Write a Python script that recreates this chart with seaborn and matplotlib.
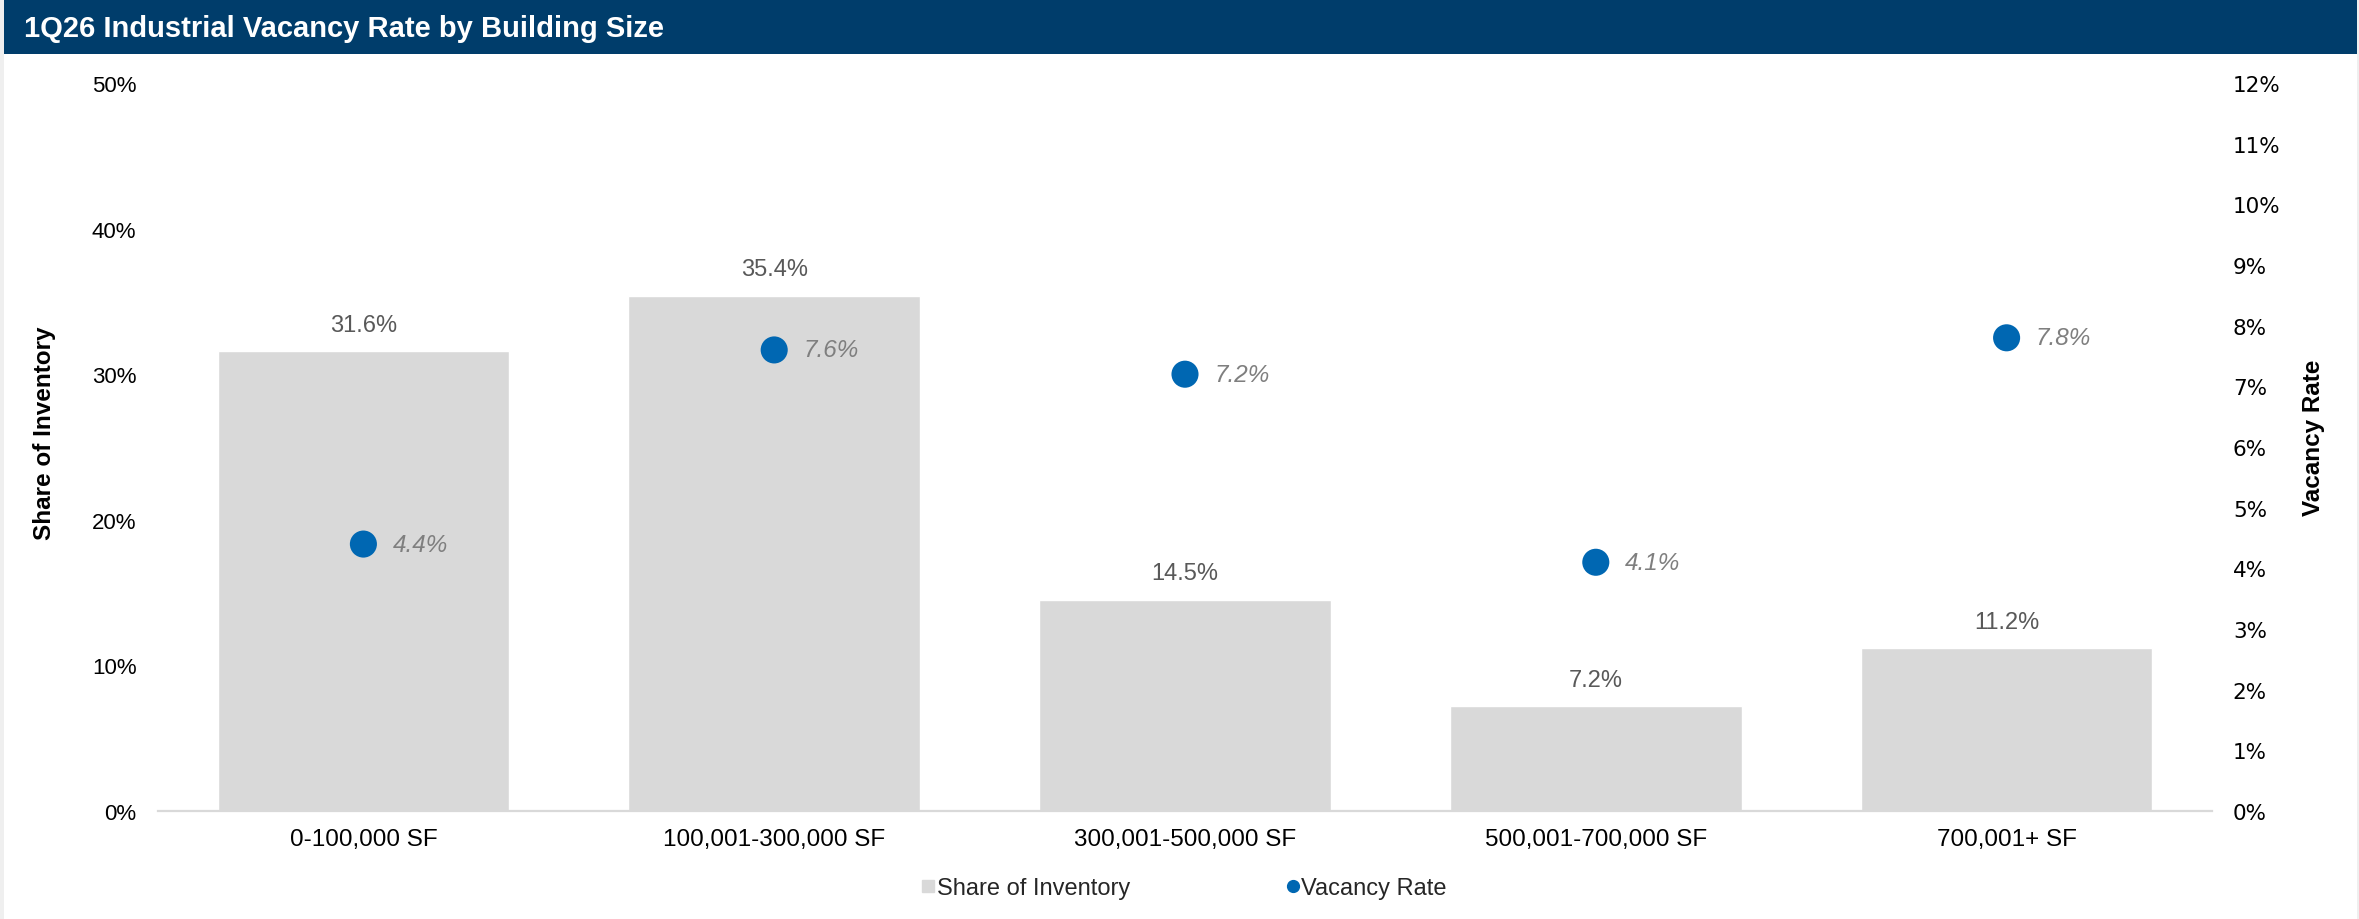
import matplotlib
matplotlib.use("Agg")
import matplotlib.pyplot as plt
from matplotlib.patches import Rectangle
from matplotlib.lines import Line2D
from matplotlib.ticker import FuncFormatter, MultipleLocator
import seaborn as sns
import pandas as pd

# Data
categories = ["0-100,000 SF", "100,001-300,000 SF", "300,001-500,000 SF",
              "500,001-700,000 SF", "700,001+ SF"]
share_of_inventory = [31.6, 35.4, 14.5, 7.2, 11.2]
vacancy_rate = [4.4, 7.6, 7.2, 4.1, 7.8]
title = "1Q26 Industrial Vacancy Rate by Building Size"

df = pd.DataFrame({"size": categories, "share": share_of_inventory, "vacancy": vacancy_rate})

sns.set_theme(style="white")
plt.rcParams["font.family"] = ["Liberation Sans", "DejaVu Sans"]

BAR = "#D9D9D9"
DOT = "#0067B2"
NAVY = "#003D6B"

W, H = 2359, 920
fig = plt.figure(figsize=(W / 100, H / 100), dpi=100, facecolor="#EFEFEF")

# white panel and title banner
fig.patches.append(Rectangle((4 / W, 0), (2357 - 4) / W, 1, transform=fig.transFigure,
                             facecolor="white", edgecolor="none", zorder=-2))
fig.patches.append(Rectangle((4 / W, 1 - 55 / H), (2357 - 4) / W, 54 / H, transform=fig.transFigure,
                             facecolor=NAVY, edgecolor="none", zorder=-1))
fig.text(24 / W, 1 - 29 / H, title, color="white", fontsize=21, fontweight="bold",
         va="center", ha="left")

ax = fig.add_axes([158 / W, 1 - 812 / H, (2212 - 158) / W, (812 - 84) / H])
ax.patch.set_alpha(0)
sns.barplot(data=df, x="size", y="share", color=BAR, width=0.71, saturation=1,
            ax=ax, zorder=2)
ax.set_ylim(0, 50)
ax.set_xlim(-0.5, 4.5)
ax.yaxis.set_major_locator(MultipleLocator(10))
ax.yaxis.set_major_formatter(FuncFormatter(lambda v, p: f"{v:.0f}%"))
ax.set_xlabel("")
ax.set_ylabel("Share of Inventory", fontsize=17.5, fontweight="bold", color="black")
ax.yaxis.set_label_coords(-0.0497, 0.52)
ax.tick_params(axis="y", length=0, labelsize=16, labelcolor="black", pad=15.5)
ax.tick_params(axis="x", length=0, labelsize=17.5, labelcolor="black", pad=12)
for s in ["top", "right", "left"]:
    ax.spines[s].set_visible(False)
ax.spines["bottom"].set_color("#D9D9D9")
ax.spines["bottom"].set_linewidth(1.6)

for i, v in enumerate(share_of_inventory):
    ax.annotate(f"{v:.1f}%", (i, v), xytext=(0, 19), textcoords="offset points",
                ha="center", va="center", fontsize=17, color="#595959")

ax2 = ax.twinx()
sns.scatterplot(data=df, x="size", y="vacancy", color=DOT, s=380, edgecolor="none",
                ax=ax2, zorder=3, legend=False)
ax2.set_ylim(0, 12)
ax2.set_xlim(-0.5, 4.5)
ax2.yaxis.set_major_locator(MultipleLocator(1))
ax2.yaxis.set_major_formatter(FuncFormatter(lambda v, p: f"{v:.0f}%"))
ax2.set_ylabel("Vacancy Rate", fontsize=17.5, fontweight="bold", color="black")
ax2.yaxis.set_label_coords(1.0438, 0.514)
ax2.tick_params(axis="y", length=0, labelsize=15.5, labelcolor="black", pad=15)
for lbl in ax2.get_yticklabels():
    lbl.set_fontfamily("DejaVu Sans")
for s in ["top", "right", "left", "bottom"]:
    ax2.spines[s].set_visible(False)

for i, v in enumerate(vacancy_rate):
    ax2.annotate(f"{v:.1f}%", (i, v), xytext=(21, 0), textcoords="offset points",
                 ha="left", va="center", fontsize=17.5, color="#7F7F7F", style="italic")

handles = [
    Line2D([], [], linestyle="none", marker="s", markersize=8.5, color=BAR),
    Line2D([], [], linestyle="none", marker="o", markersize=8.5, color=DOT),
]
fig.legend(handles, ["Share of Inventory", "Vacancy Rate"], loc="center",
           bbox_to_anchor=(1184 / W, 1 - 889 / H), ncol=2, frameon=False,
           fontsize=17, handletextpad=0.05, handlelength=0.6, columnspacing=6.6)

fig.savefig("out.png", dpi=100, facecolor=fig.get_facecolor())
